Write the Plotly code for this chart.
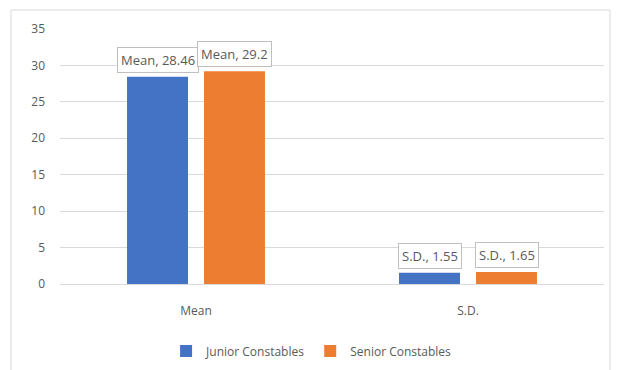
import plotly.graph_objects as go

categories = ["Mean", "S.D."]
junior = [28.46, 1.55]
senior = [29.2, 1.65]
series_names = ["Junior Constables", "Senior Constables"]
colors = ["#4472C4", "#ED7D31"]
y_ticks = [0, 5, 10, 15, 20, 25, 30, 35]

font_fam = "Open Sans, Liberation Sans, sans-serif"
txt = "#595959"

fig = go.Figure()
for name, vals, col in zip(series_names, [junior, senior], colors):
    fig.add_trace(go.Bar(x=categories, y=vals, name=name, marker=dict(color=col, line=dict(width=0))))

annotations = []
for vals, shift in [(junior, -38.5), (senior, 38.5)]:
    for c, v in zip(categories, vals):
        annotations.append(dict(
            x=c, y=v, xref="x", yref="y", xshift=shift, yshift=4,
            text=f"{c}, {v:g}", showarrow=False, yanchor="bottom",
            font=dict(family=font_fam, size=13, color=txt),
            bgcolor="white", bordercolor="#bfbfbf", borderwidth=1, borderpad=3))

fig.update_layout(
    width=623, height=370,
    margin=dict(l=60, r=19, t=29, b=86, autoexpand=False),
    paper_bgcolor="white", plot_bgcolor="white",
    barmode="group", bargap=0.434, bargroupgap=0.208,
    font=dict(family=font_fam, size=12, color=txt),
    showlegend=True,
    legend=dict(orientation="h", x=0.195, xanchor="left", y=-0.263, yanchor="middle",
                font=dict(size=12, color=txt), itemwidth=30, tracegroupgap=0),
    annotations=annotations,
    shapes=[dict(type="rect", xref="paper", yref="paper", x0=-0.09, x1=1.011, y0=-0.345, y1=1.0745,
                 line=dict(color="#d9d9d9", width=1), layer="below")],
)
fig.update_xaxes(showgrid=False, showline=False, ticks="", ticklabelstandoff=18,
                 tickfont=dict(size=12, color=txt))
fig.update_yaxes(range=[0, 35], tickvals=y_ticks, showgrid=True, gridcolor="#d9d9d9", gridwidth=1,
                 zeroline=True, zerolinecolor="#d9d9d9", zerolinewidth=1, showline=False,
                 ticks="", ticklabelstandoff=14, tickfont=dict(size=12, color=txt))

fig.write_html("out.html")
